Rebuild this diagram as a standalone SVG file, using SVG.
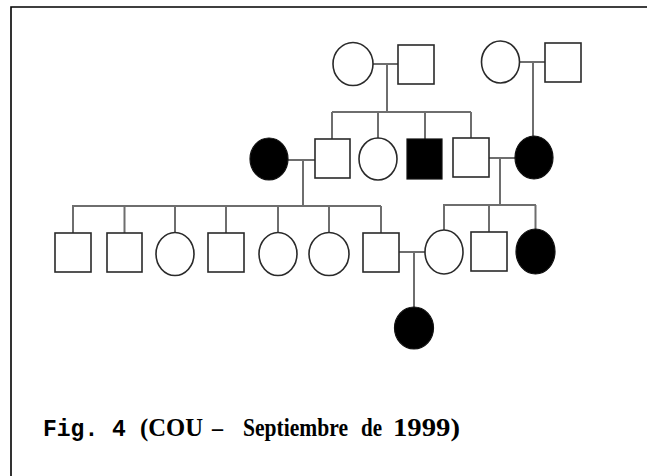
<svg xmlns="http://www.w3.org/2000/svg" width="647" height="476" viewBox="0 0 647 476">
<style>
.m{fill:#fff;stroke:#2a2a2a;stroke-width:1.6}
.a{fill:#000;stroke:#111;stroke-width:1.2}
.c{fill:none;stroke:#6e6e6e;stroke-width:2}
.frame{fill:none;stroke:#000;stroke-width:1.6}
.cour{font-family:"Liberation Mono","Courier New",monospace;font-weight:bold;font-size:23px;fill:#000}
.tim{font-family:"Liberation Serif","Times New Roman",serif;font-weight:bold;font-size:24.5px;fill:#000}
</style>
<rect width="647" height="476" fill="#fff"/>
<path class="frame" d="M11 476 V7 H647"/>
<g id="connectors">
<path class="c" d="M373 64 H398 M387 64 V112"/>
<path class="c" d="M519.5 62 H545 M533 62 V136"/>
<path class="c" d="M332 112 H471 M332 112 V139 M378 112 V138 M425 112 V139 M471 112 V138"/>
<path class="c" d="M288 160 H315 M303 160 V206"/>
<path class="c" d="M489 158 H515 M500 158 V205"/>
<path class="c" d="M72 206 H381 M73 206 V233 M124.5 206 V233 M175 206 V232.5 M226 206 V233 M278 206 V232.5 M329 206 V232.5 M381 206 V233"/>
<path class="c" d="M443 205 H536 M444 205 V230 M489 205 V232 M535.5 205 V229"/>
<path class="c" d="M399 252 H425 M414 252 V307"/>
</g>
<g id="I1"><ellipse class="m" cx="353" cy="64" rx="20" ry="21.5"/></g>
<g id="I2"><rect class="m" x="398" y="45" width="36" height="39"/></g>
<g id="I3"><ellipse class="m" cx="500.5" cy="62" rx="19" ry="21"/></g>
<g id="I4"><rect class="m" x="545" y="43" width="36" height="39"/></g>
<g id="II1"><ellipse class="a" cx="269" cy="159" rx="19" ry="21"/></g>
<g id="II2"><rect class="m" x="315" y="139" width="35" height="39"/></g>
<g id="II3"><ellipse class="m" cx="378" cy="159" rx="19" ry="21"/></g>
<g id="II4"><rect class="a" x="407" y="139" width="35" height="40"/></g>
<g id="II5"><rect class="m" x="453" y="138" width="36" height="39"/></g>
<g id="II6"><ellipse class="a" cx="534" cy="157.5" rx="19" ry="21.5"/></g>
<g id="III1"><rect class="m" x="55" y="233" width="36" height="39"/></g>
<g id="III2"><rect class="m" x="107" y="233" width="35" height="39"/></g>
<g id="III3"><ellipse class="m" cx="175" cy="254" rx="19" ry="21.5"/></g>
<g id="III4"><rect class="m" x="208" y="233" width="36" height="39"/></g>
<g id="III5"><ellipse class="m" cx="278" cy="254" rx="19" ry="21.5"/></g>
<g id="III6"><ellipse class="m" cx="329" cy="254" rx="20" ry="21.5"/></g>
<g id="III7"><rect class="m" x="363" y="233" width="36" height="39"/></g>
<g id="III8"><ellipse class="m" cx="444" cy="252" rx="19" ry="22"/></g>
<g id="III9"><rect class="m" x="471" y="232" width="36" height="39"/></g>
<g id="III10"><ellipse class="a" cx="535.5" cy="251.5" rx="19.5" ry="22.5"/></g>
<g id="IV1"><ellipse class="a" cx="414" cy="328" rx="19.5" ry="21"/></g>
<g id="caption">
<text class="cour" x="43" y="436">Fig. 4</text>
<text class="tim" x="140" y="436" textLength="63" lengthAdjust="spacingAndGlyphs">(COU</text>
<text class="tim" x="212" y="436" textLength="11" lengthAdjust="spacingAndGlyphs">–</text>
<text class="tim" x="243" y="436" textLength="105" lengthAdjust="spacingAndGlyphs">Septiembre</text>
<text class="tim" x="361" y="436" textLength="21" lengthAdjust="spacingAndGlyphs">de</text>
<text class="tim" x="393" y="436" textLength="67" lengthAdjust="spacingAndGlyphs">1999)</text>
</g>
</svg>
